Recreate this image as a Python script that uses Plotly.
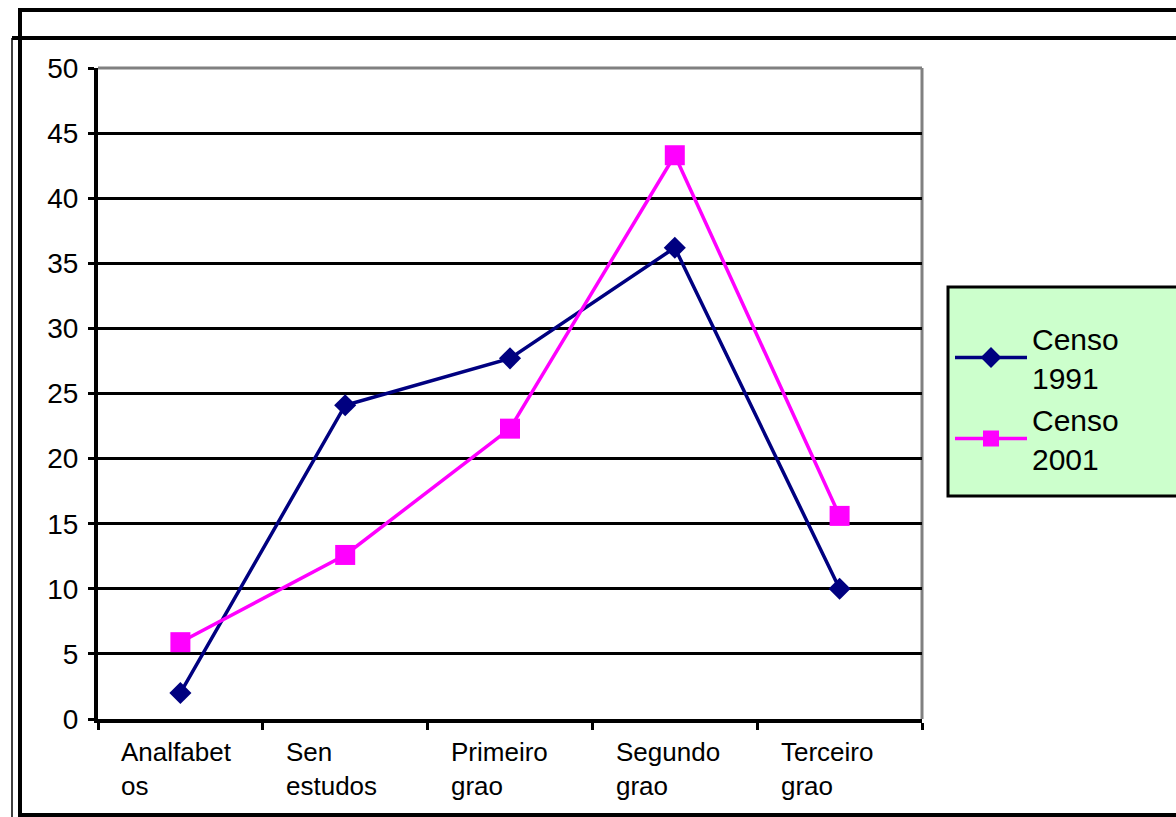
import plotly.graph_objects as go

categories = ["Analfabetos", "Sen estudos", "Primeiro grao", "Segundo grao", "Terceiro grao"]
category_labels = ["Analfabet<br>os", "Sen<br>estudos", "Primeiro<br>grao", "Segundo<br>grao", "Terceiro<br>grao"]
censo_1991 = [2.0, 24.1, 27.7, 36.2, 10.0]
censo_2001 = [5.9, 12.6, 22.3, 43.3, 15.6]
series_names = ["Censo<br>1991", "Censo<br>2001"]
y_ticks = [0, 5, 10, 15, 20, 25, 30, 35, 40, 45, 50]

W, H = 1176, 817
L, R, T, B = 98, 922, 68, 719


def px_x(p):
    return (p - L) / (R - L)


def px_y(p):
    return (B - p) / (B - T)


fig = go.Figure()
fig.add_trace(go.Scatter(
    x=categories, y=censo_1991, name=series_names[0], mode="lines+markers",
    line=dict(color="#000080", width=3.5),
    marker=dict(symbol="diamond", size=17, color="#000080"),
))
fig.add_trace(go.Scatter(
    x=categories, y=censo_2001, name=series_names[1], mode="lines+markers",
    line=dict(color="#FF00FF", width=3.5),
    marker=dict(symbol="square", size=20, color="#FF00FF"),
))

font_family = "Liberation Sans, Arial, sans-serif"

annotations = []
for c, lab in zip(categories, category_labels):
    annotations.append(dict(
        x=c, y=0, xref="x", yref="paper", text=lab, showarrow=False,
        xanchor="left", yanchor="top", align="left", xshift=-61, yshift=-16,
        font=dict(family=font_family, size=26, color="black"),
    ))

shapes = [
    # legend box
    dict(type="rect", xref="paper", yref="paper",
         x0=px_x(948), x1=px_x(1190), y0=px_y(496), y1=px_y(287),
         line=dict(color="black", width=3), fillcolor="#CCFFCC", layer="below"),
    # outer frames
    dict(type="rect", xref="paper", yref="paper",
         x0=px_x(20), x1=px_x(1200), y0=px_y(815), y1=px_y(10),
         line=dict(color="black", width=4), layer="above"),
    dict(type="line", xref="paper", yref="paper",
         x0=px_x(12), x1=px_x(1200), y0=px_y(38), y1=px_y(38),
         line=dict(color="black", width=4), layer="above"),
    dict(type="line", xref="paper", yref="paper",
         x0=px_x(12), x1=px_x(12), y0=px_y(38), y1=px_y(830),
         line=dict(color="black", width=1.5), layer="above"),
    # plot area top/right border (gray)
    dict(type="line", xref="paper", yref="paper", x0=0, x1=1, y0=1, y1=1,
         line=dict(color="#808080", width=3), layer="above"),
    dict(type="line", xref="paper", yref="paper", x0=1, x1=1, y0=0, y1=1,
         line=dict(color="#808080", width=3), layer="below"),
]

fig.update_layout(
    width=W, height=H,
    margin=dict(l=L, r=W - R, t=T, b=H - B, autoexpand=False),
    paper_bgcolor="white", plot_bgcolor="white",
    font=dict(family=font_family, color="black"),
    showlegend=True,
    legend=dict(
        x=px_x(950), y=px_y(312), xanchor="left", yanchor="top",
        bgcolor="rgba(0,0,0,0)", borderwidth=0,
        font=dict(family=font_family, size=30, color="black"),
        itemwidth=72, tracegroupgap=0,
    ),
    annotations=annotations,
    shapes=shapes,
    xaxis=dict(
        type="category", range=[-0.5, 4.5], showgrid=False,
        showline=True, linecolor="black", linewidth=4,
        ticks="outside", tickson="boundaries", ticklen=7, tickwidth=3, tickcolor="black",
        showticklabels=False, zeroline=False,
    ),
    yaxis=dict(
        range=[0, 50], tickvals=y_ticks, showgrid=True, gridcolor="black", gridwidth=3,
        showline=True, linecolor="black", linewidth=4, zeroline=False,
        ticks="outside", ticklen=6, tickwidth=3, tickcolor="black",
        tickfont=dict(family=font_family, size=28, color="black"),
        ticklabelstandoff=4,
    ),
)

fig.write_html(
    "out.html",
    config={"displayModeBar": False},
    post_script="document.body.style.margin='0';document.body.style.overflow='hidden';",
)
